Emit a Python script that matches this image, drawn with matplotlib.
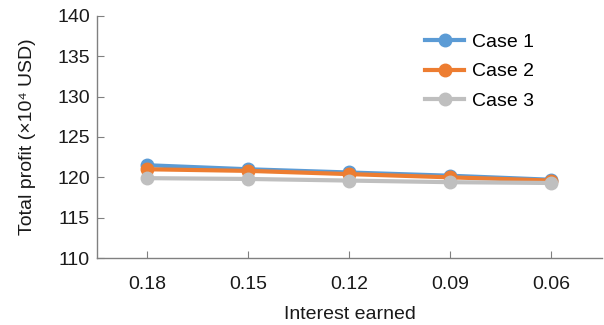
import matplotlib
matplotlib.use("Agg")
import matplotlib.pyplot as plt

categories = ["0.18", "0.15", "0.12", "0.09", "0.06"]
case1 = [121.5, 121.0, 120.6, 120.2, 119.7]
case2 = [121.0, 120.8, 120.4, 120.0, 119.6]
case3 = [119.9, 119.8, 119.6, 119.4, 119.3]
series_names = ["Case 1", "Case 2", "Case 3"]
yticks = [110, 115, 120, 125, 130, 135, 140]

plt.rcParams['font.family'] = ['Liberation Sans', 'DejaVu Sans']

fig = plt.figure(figsize=(6.04, 3.25), dpi=100)
ax = fig.add_axes([0.1606, 0.206, 0.836, 0.745])

colors = ["#5B9BD5", "#ED7D31", "#BFBFBF"]
x = list(range(len(categories)))
for vals, name, c in zip([case1, case2, case3], series_names, colors):
    ax.plot(x, vals, color=c, lw=3, marker='o', markersize=9, label=name)

ax.set_xlim(-0.5, len(categories) - 0.5)
ax.set_ylim(110, 140)
ax.set_yticks(yticks)
ax.set_xticks(x)
ax.set_xticklabels(categories)
for s in ['top', 'right']:
    ax.spines[s].set_visible(False)
for s in ['left', 'bottom']:
    ax.spines[s].set_color('#808080')
    ax.spines[s].set_linewidth(1.0)
ax.tick_params(axis='both', direction='in', length=5, color='#808080',
               labelsize=14, labelcolor='#1a1a1a')
ax.tick_params(axis='x', pad=13)
ax.tick_params(axis='y', pad=5)
ax.set_xlabel("Interest earned", fontsize=14, color='#1a1a1a', labelpad=9)
ax.set_ylabel("Total profit (×10⁴ USD)", fontsize=14, color='#1a1a1a', labelpad=15)

leg = ax.legend(loc='upper right', bbox_to_anchor=(0.90, 1.0), frameon=False,
                fontsize=14, handlelength=2.0, labelspacing=0.6, handletextpad=0.4)

fig.savefig("out.png", dpi=100)
